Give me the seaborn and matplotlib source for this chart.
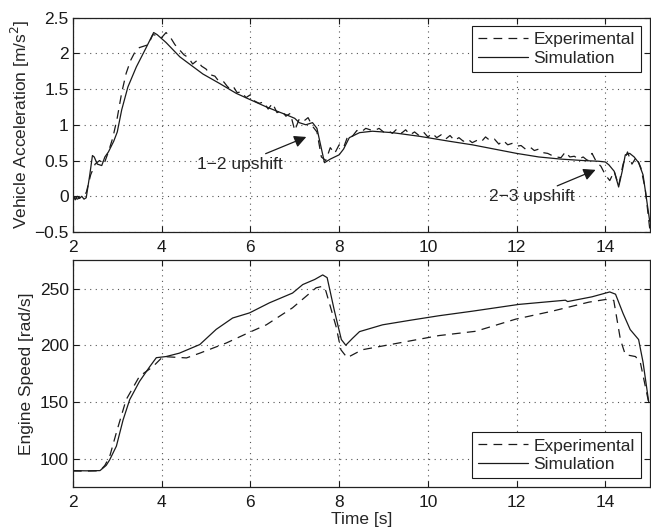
import matplotlib
matplotlib.use("Agg")
import matplotlib.pyplot as plt
import numpy as np
import pandas as pd
import seaborn as sns

# vehicle acceleration, simulation [m/s^2]
t_acc_sim = [2.0, 2.05, 2.1, 2.15, 2.2, 2.25, 2.3, 2.38, 2.44, 2.48, 2.55, 2.65, 2.72, 2.8,
             2.92, 3.0, 3.1, 3.24, 3.43, 3.66, 3.82, 3.9, 4.1, 4.41, 4.93, 5.3, 5.68, 6.0,
             6.36, 6.6, 6.81, 7.0, 7.1, 7.25, 7.4, 7.5, 7.67, 7.8, 8.0, 8.1, 8.23, 8.46,
             8.75, 9.2, 9.8, 10.48, 11.0, 11.5, 12.0, 12.5, 13.0, 13.5, 13.85, 14.0, 14.08,
             14.2, 14.3, 14.38, 14.45, 14.55, 14.65, 14.75, 14.85, 14.92, 15.0]
acc_sim = [0.02, -0.05, 0.0, -0.03, 0.0, -0.04, -0.02, 0.3, 0.57, 0.55, 0.45, 0.43, 0.55, 0.62,
           0.77, 0.9, 1.21, 1.53, 1.81, 2.09, 2.29, 2.26, 2.15, 1.95, 1.71, 1.58, 1.44, 1.35,
           1.25, 1.19, 1.14, 1.09, 1.03, 1.0, 1.03, 0.95, 0.47, 0.52, 0.58, 0.66, 0.82, 0.89,
           0.91, 0.89, 0.84, 0.77, 0.72, 0.66, 0.6, 0.55, 0.52, 0.5, 0.49, 0.48, 0.44,
           0.35, 0.13, 0.35, 0.58, 0.6, 0.55, 0.47, 0.3, 0.0, -0.35]

# vehicle acceleration, experimental (0.1 s samples from 2.0 to 15.0)
t_acc_exp = [round(2.0 + 0.1 * i, 1) for i in range(131)]
acc_exp = [0.0, -0.04, 0.0, 0.05, 0.3, 0.45, 0.5, 0.45, 0.62, 0.82,
           1.1, 1.45, 1.72, 1.9, 2.02, 2.08, 2.1, 2.12, 2.26, 2.25,
           2.22, 2.29, 2.22, 2.12, 2.05, 1.98, 1.94, 1.85, 1.9, 1.82,
           1.78, 1.7, 1.68, 1.6, 1.6, 1.52, 1.55, 1.45, 1.46, 1.38,
           1.42, 1.33, 1.3, 1.32, 1.22, 1.3, 1.17, 1.2, 1.12, 1.16,
           0.92, 1.08, 1.05, 1.1, 0.98, 0.9, 0.55, 0.5, 0.68, 0.6,
           0.72, 0.68, 0.85, 0.84, 0.92, 0.9, 0.95, 0.93, 0.92, 0.95,
           0.9, 0.92, 0.88, 0.94, 0.88, 0.93, 0.86, 0.9, 0.85, 0.9,
           0.83, 0.88, 0.82, 0.86, 0.8, 0.85, 0.78, 0.82, 0.77, 0.8,
           0.75, 0.78, 0.76, 0.83, 0.78, 0.8, 0.73, 0.78, 0.72, 0.74,
           0.7, 0.71, 0.66, 0.69, 0.64, 0.66, 0.61, 0.6, 0.57, 0.55,
           0.54, 0.62, 0.55, 0.56, 0.52, 0.55, 0.5, 0.6, 0.48, 0.42,
           0.3, 0.22, 0.35, 0.15, 0.45, 0.62, 0.45, 0.55, 0.4, 0.1,
           -0.45]

# engine speed [rad/s]
t_eng_sim = [2.0, 2.3, 2.61, 2.75, 2.83, 2.98, 3.13, 3.28, 3.5, 3.73, 3.88, 4.1, 4.4, 4.86,
             5.23, 5.6, 5.98, 6.43, 6.95, 7.18, 7.45, 7.63, 7.73, 7.89, 8.05, 8.15, 8.3,
             8.46, 8.98, 9.6, 10.25, 11.0, 12.05, 13.1, 13.15, 13.7, 14.1, 14.23, 14.4,
             14.56, 14.75, 14.85, 14.98]
eng_sim = [89.4, 89.2, 89.4, 94, 99, 111, 134, 152, 168, 181, 189, 190, 193, 200.6,
           214, 224, 228.5, 237.4, 246, 253.5, 258, 262, 259.6, 231, 205, 200, 206,
           212, 218, 222, 226, 230, 236, 239.7, 238.5, 242.7, 247, 245, 228,
           213.8, 205, 185, 149.4]
t_eng_exp = [2.0, 2.3, 2.61, 2.72, 2.83, 2.98, 3.2, 3.5, 3.8, 4.03, 4.56, 4.86, 5.46, 5.98,
             6.36, 6.95, 7.48, 7.63, 7.7, 7.93, 8.04, 8.18, 8.52, 9.35, 10.25, 11.08, 11.98,
             12.8, 13.63, 14.0, 14.19, 14.34, 14.45, 14.68, 14.79, 14.98]
eng_exp = [89.0, 89.0, 89.2, 94, 102, 123, 152, 172.6, 181, 190, 188.8, 193, 202, 211.4,
           218, 233, 250.6, 252, 248, 216.7, 196, 189, 196, 202, 208.5, 212.3, 223,
           230, 238, 240.3, 239.5, 205, 191.7, 190, 184.6, 149]

x_ticks = [2, 4, 6, 8, 10, 12, 14]
fs = 12.5

sns.set_theme(style="ticks")
plt.rcParams["font.family"] = ["Liberation Sans", "DejaVu Sans"]
plt.rcParams["axes.linewidth"] = 0.9
plt.rcParams["xtick.direction"] = "in"
plt.rcParams["ytick.direction"] = "in"

fig = plt.figure(figsize=(6.51, 5.31), dpi=100)
ax1 = fig.add_axes([0.112, 0.563, 0.886, 0.404])
ax2 = fig.add_axes([0.112, 0.083, 0.886, 0.427])

dash = (7, 5)
sns.lineplot(x=t_acc_exp, y=acc_exp, ax=ax1, color="k", lw=0.9, sort=False, estimator=None,
             label="Experimental").lines[-1].set_dashes(dash)
sns.lineplot(x=t_acc_sim, y=acc_sim, ax=ax1, color="k", lw=0.9, sort=False, estimator=None,
             label="Simulation")
sns.lineplot(x=t_eng_exp, y=eng_exp, ax=ax2, color="k", lw=0.9, sort=False, estimator=None,
             label="Experimental").lines[-1].set_dashes(dash)
sns.lineplot(x=t_eng_sim, y=eng_sim, ax=ax2, color="k", lw=0.9, sort=False, estimator=None,
             label="Simulation")

ax1.set_xlim(2, 15)
ax1.set_ylim(-0.5, 2.5)
ax1.set_yticks([-0.5, 0, 0.5, 1, 1.5, 2, 2.5])
ax1.set_yticklabels(["\u22120.5", "0", "0.5", "1", "1.5", "2", "2.5"])
ax2.set_xlim(2, 15)
ax2.set_ylim(75, 275)
ax2.set_yticks([100, 150, 200, 250])

for ax in (ax1, ax2):
    ax.set_xticks(x_ticks)
    ax.grid(True, linestyle=(0, (1, 4)), color="#555555", lw=0.8)
    ax.tick_params(which="both", top=True, right=True, length=4, width=0.8,
                   labelsize=fs, colors="k", pad=3)
    ax.tick_params(axis="x", pad=6)
    for s in ax.spines.values():
        s.set_color("#222222")
    leg = ax.legend(fontsize=fs, handlelength=2.9, fancybox=False, edgecolor="k",
                    framealpha=1, borderpad=0.35, labelspacing=0.2, handletextpad=0.3,
                    loc="upper right" if ax is ax1 else "lower right",
                    borderaxespad=0.5)
    leg.get_frame().set_linewidth(0.8)

ax1.set_xlabel("")
ax1.set_ylabel("Vehicle Acceleration [m/s$^2$]", fontsize=fs, labelpad=2)
ax2.set_ylabel("Engine Speed [rad/s]", fontsize=fs, labelpad=4)
ax2.set_xlabel("Time [s]", fontsize=fs, labelpad=1.5)

arrow = dict(arrowstyle="-|>", color="k", lw=0.9, mutation_scale=18, shrinkA=0, shrinkB=0)
ax1.annotate("1\u22122 upshift", xy=(7.26, 0.83), xytext=(6.72, 0.55), fontsize=fs,
             ha="right", va="top", arrowprops=arrow)
ax1.annotate("2\u22123 upshift", xy=(13.78, 0.37), xytext=(13.3, 0.1), fontsize=fs,
             ha="right", va="top", arrowprops=arrow)

fig.savefig("out.png", dpi=100)
